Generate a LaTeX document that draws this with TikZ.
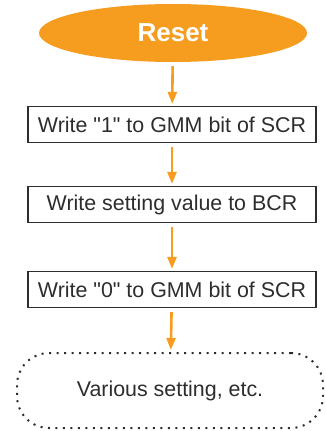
\documentclass[tikz,border=0pt]{standalone}
\usepackage{fontspec}
\setmainfont{Liberation Sans}
\usepackage[dvipsnames]{xcolor}
\usetikzlibrary{arrows.meta,shapes.geometric}
\definecolor{flowOrange}{RGB}{246,157,32}
\definecolor{flowGray}{RGB}{45,45,45}
\begin{document}
\begin{tikzpicture}[x=1pt,y=-1pt,
    stepbox/.style={draw=flowGray,line width=1.2pt,minimum width=288pt,minimum height=36pt,inner sep=0pt,
        text=flowGray,font=\fontsize{21.4}{25}\selectfont},
    flowarrow/.style={draw=flowOrange,line width=2.6pt,-{Triangle[width=9pt,length=12pt]},shorten <=4pt,shorten >=2pt}]
            \useasboundingbox (0, 0) rectangle (325, 431);
            \node[ellipse,fill=flowOrange,minimum width=268pt,minimum height=58pt,inner sep=0pt,
                text=white,font=\fontsize{26}{30}\selectfont\bfseries] (reset) at (173, 33) {Reset};
            \node[stepbox] (setgmm) at (172, 124.5) {Write \textquotedbl 1\textquotedbl{} to GMM bit of SCR};
            \node[stepbox] (bcr) at (172, 204.5) {Write setting value to BCR};
            \node[stepbox] (clrgmm) at (172, 289.5) {Write \textquotedbl 0\textquotedbl{} to GMM bit of SCR};
            \node[draw=flowGray,line width=2pt,dash pattern=on 2pt off 5.5pt,rounded corners=32pt,
                minimum width=306pt,minimum height=75pt,text=flowGray,font=\fontsize{21.4}{25}\selectfont] (misc) at (170, 390.5) {Various setting, etc.};
            %\draw[thick,opacity=.5] (reset.south) -- (misc.north);
            \draw[flowarrow] (reset) -- (setgmm);
            \draw[flowarrow] (setgmm) -- (bcr);
            \draw[flowarrow] (bcr) -- (clrgmm);
            \draw[flowarrow] (clrgmm) -- (misc);
        \end{tikzpicture}
\end{document}
